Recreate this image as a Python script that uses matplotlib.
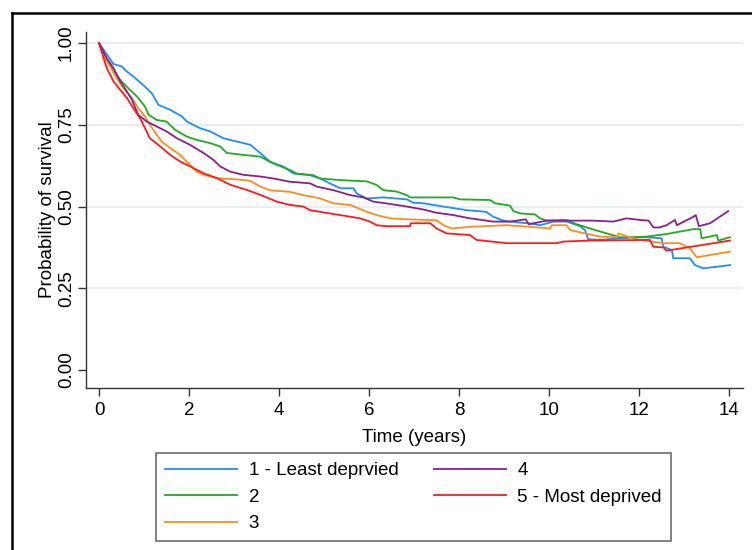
import matplotlib
matplotlib.use("Agg")
import matplotlib.pyplot as plt
from matplotlib.lines import Line2D

plt.rcParams['font.family'] = ['Liberation Sans', 'DejaVu Sans']

# Kaplan-Meier survival by deprivation quintile
t_q1 = [0, 0.32, 0.50, 0.62, 0.76, 0.98, 1.17, 1.32, 1.58, 1.84, 1.95, 2.24, 2.47, 2.76,
        3.06, 3.36, 3.58, 3.80, 4.10, 4.32, 4.69, 4.91, 5.13, 5.36, 5.65, 5.73, 5.95,
        6.32, 6.84, 6.98, 7.21, 7.65, 8.17, 8.60, 8.76, 8.98, 9.13, 9.58, 9.80, 10.10,
        10.39, 10.69, 10.80, 10.87, 11.13, 11.87, 12.17, 12.50, 12.54, 12.73, 12.76,
        13.13, 13.24, 13.43, 13.73, 14.02]
s_q1 = [1.0, 0.936, 0.929, 0.913, 0.898, 0.872, 0.847, 0.811, 0.796, 0.776, 0.760, 0.740,
        0.730, 0.709, 0.699, 0.689, 0.664, 0.637, 0.622, 0.601, 0.596, 0.586, 0.571,
        0.556, 0.556, 0.540, 0.525, 0.528, 0.522, 0.512, 0.510, 0.500, 0.489, 0.484,
        0.469, 0.457, 0.454, 0.448, 0.443, 0.454, 0.454, 0.440, 0.428, 0.400, 0.398,
        0.406, 0.406, 0.403, 0.377, 0.367, 0.342, 0.342, 0.321, 0.311, 0.316, 0.321]

t_q2 = [0, 0.10, 0.24, 0.39, 0.50, 0.65, 0.84, 1.02, 1.10, 1.28, 1.50, 1.69, 1.95, 2.17,
        2.47, 2.69, 2.84, 3.21, 3.58, 3.87, 4.24, 4.39, 4.76, 4.91, 5.36, 5.95, 6.17,
        6.32, 6.61, 6.84, 6.91, 7.87, 8.02, 8.69, 8.80, 9.13, 9.21, 9.36, 9.69, 9.80,
        9.95, 10.39, 10.61, 10.98, 11.28, 11.58, 11.87, 12.17, 12.61, 13.21, 13.36,
        13.39, 13.73, 13.76, 14.02]
s_q2 = [1.0, 0.964, 0.934, 0.903, 0.883, 0.862, 0.837, 0.806, 0.781, 0.765, 0.760, 0.735,
        0.714, 0.704, 0.694, 0.684, 0.664, 0.658, 0.653, 0.632, 0.612, 0.601, 0.596,
        0.586, 0.581, 0.577, 0.566, 0.550, 0.546, 0.535, 0.528, 0.528, 0.522, 0.520,
        0.510, 0.503, 0.486, 0.479, 0.476, 0.464, 0.457, 0.459, 0.446, 0.430, 0.418,
        0.406, 0.406, 0.408, 0.416, 0.431, 0.431, 0.403, 0.413, 0.396, 0.406]

t_q3 = [0, 0.13, 0.24, 0.39, 0.54, 0.73, 0.87, 1.02, 1.13, 1.28, 1.39, 1.58, 1.80, 1.98,
        2.17, 2.32, 2.62, 3.06, 3.36, 3.58, 3.80, 4.24, 4.54, 4.91, 5.21, 5.58, 5.95,
        6.17, 6.47, 6.84, 7.50, 7.65, 7.84, 8.24, 9.06, 9.58, 10.02, 10.06, 10.39,
        10.47, 11.13, 11.50, 11.54, 11.87, 12.02, 12.54, 12.91, 13.13, 13.28, 14.02]
s_q3 = [1.0, 0.954, 0.929, 0.893, 0.862, 0.832, 0.801, 0.776, 0.750, 0.720, 0.699, 0.679,
        0.658, 0.633, 0.607, 0.597, 0.587, 0.583, 0.579, 0.561, 0.550, 0.545, 0.535,
        0.525, 0.510, 0.505, 0.484, 0.474, 0.464, 0.461, 0.458, 0.443, 0.433, 0.438,
        0.443, 0.438, 0.433, 0.443, 0.443, 0.428, 0.408, 0.406, 0.418, 0.403, 0.398,
        0.388, 0.388, 0.372, 0.345, 0.362]

t_q4 = [0, 0.17, 0.32, 0.47, 0.62, 0.73, 0.87, 1.06, 1.28, 1.50, 1.73, 2.02, 2.32, 2.54,
        2.69, 2.91, 3.21, 3.58, 3.87, 4.24, 4.69, 4.84, 5.21, 5.58, 5.87, 6.10, 6.47,
        6.84, 7.21, 7.50, 7.87, 8.24, 8.76, 9.13, 9.48, 9.55, 9.95, 10.98, 11.43, 11.72,
        12.02, 12.21, 12.32, 12.45, 12.61, 12.80, 12.84, 13.21, 13.26, 13.33, 13.58,
        13.98]
s_q4 = [1.0, 0.954, 0.924, 0.883, 0.852, 0.827, 0.781, 0.760, 0.745, 0.730, 0.709, 0.689,
        0.664, 0.643, 0.623, 0.607, 0.597, 0.592, 0.586, 0.576, 0.571, 0.561, 0.550,
        0.535, 0.528, 0.515, 0.508, 0.500, 0.491, 0.481, 0.474, 0.464, 0.454, 0.454,
        0.461, 0.446, 0.457, 0.457, 0.454, 0.464, 0.459, 0.457, 0.436, 0.436, 0.443,
        0.459, 0.443, 0.469, 0.474, 0.440, 0.449, 0.486]

t_q5 = [0, 0.10, 0.17, 0.32, 0.47, 0.62, 0.76, 0.91, 1.02, 1.13, 1.36, 1.58, 1.80, 2.02,
        2.32, 2.62, 2.91, 3.28, 3.58, 3.95, 4.24, 4.54, 4.69, 5.13, 5.58, 5.80, 6.02,
        6.17, 6.39, 6.91, 6.93, 7.36, 7.50, 7.72, 8.24, 8.39, 9.06, 10.17, 10.32, 10.91,
        12.24, 12.32, 12.54, 12.61, 14.02]
s_q5 = [1.0, 0.954, 0.924, 0.883, 0.857, 0.832, 0.801, 0.771, 0.740, 0.709, 0.684, 0.658,
        0.638, 0.623, 0.602, 0.587, 0.567, 0.551, 0.536, 0.515, 0.505, 0.500, 0.489,
        0.479, 0.469, 0.464, 0.454, 0.443, 0.440, 0.440, 0.449, 0.449, 0.433, 0.418,
        0.413, 0.398, 0.388, 0.388, 0.393, 0.396, 0.398, 0.377, 0.375, 0.365, 0.396]

labels = ['1 - Least deprvied', '2', '3', '4', '5 - Most deprived']
colors = ['#1e8cff', '#1faa1f', '#ff8c1a', '#8c1f8c', '#ff1a1a']
x_ticks = [0, 2, 4, 6, 8, 10, 12, 14]
y_ticks = [0.0, 0.25, 0.5, 0.75, 1.0]

fs = 13.5

fig = plt.figure(figsize=(7.52, 5.50), dpi=100)
ax = fig.add_axes([86 / 752, 1 - 388 / 550, (743 - 86) / 752, (388 - 32) / 550])

curves = [(t_q1, s_q1), (t_q2, s_q2), (t_q3, s_q3), (t_q4, s_q4), (t_q5, s_q5)]
for (t, s), lab, col in zip(curves, labels, colors):
    ax.plot(t, s, color=col, lw=1.3, label=lab)

for g in y_ticks[1:]:
    ax.axhline(g, color='#e6eef1', lw=1.3, zorder=0)

ax.set_xlim(-0.29, 14.31)
ax.set_ylim(-0.055, 1.034)
ax.set_xticks(x_ticks)
ax.set_yticks(y_ticks)
ax.set_yticklabels(['%.2f' % v for v in y_ticks], rotation=90, va='center')
ax.tick_params(axis='both', labelsize=fs, length=6, width=1, color='#333333')
ax.tick_params(axis='y', pad=2)
ax.tick_params(axis='x', pad=4)
for side in ['top', 'right']:
    ax.spines[side].set_visible(False)
for side in ['left', 'bottom']:
    ax.spines[side].set_color('#333333')
    ax.spines[side].set_linewidth(1.0)

ax.set_xlabel('Time (years)', fontsize=fs, labelpad=7)
ax.set_ylabel('Probability of survival', fontsize=fs, labelpad=1)

leg = fig.legend(loc='upper left', bbox_to_anchor=(156 / 752, 1 - 453 / 550), ncol=2,
                 fontsize=fs, frameon=True, fancybox=False, handlelength=3.85,
                 handletextpad=0.62, columnspacing=1.87, labelspacing=0.5,
                 borderpad=0.48, borderaxespad=0)
leg.get_frame().set_edgecolor('#555555')
leg.get_frame().set_linewidth(1.3)

# outer frame running off the right and bottom edges
fig.add_artist(Line2D([12 / 752, 12 / 752], [-0.1, 1 - 13 / 550], color='black',
                      lw=1.8, transform=fig.transFigure))
fig.add_artist(Line2D([12 / 752, 1.1], [1 - 13 / 550, 1 - 13 / 550], color='black',
                      lw=1.8, transform=fig.transFigure))

fig.savefig('out.png', dpi=100)
